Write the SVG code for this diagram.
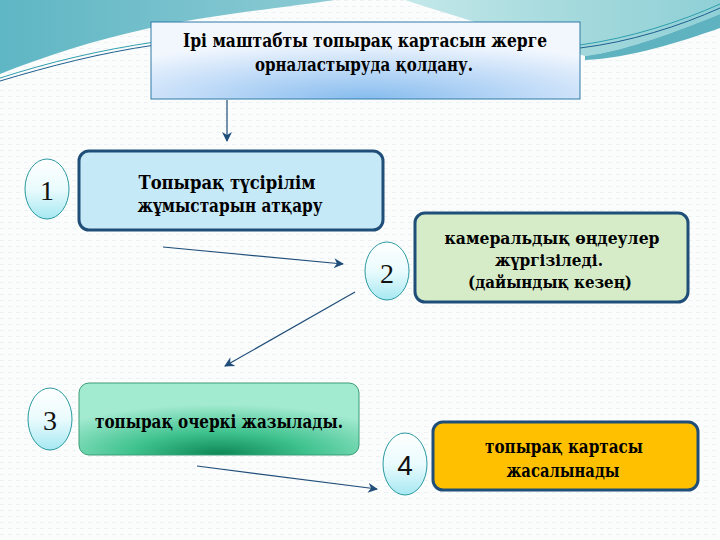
<svg xmlns="http://www.w3.org/2000/svg" width="720" height="540" viewBox="0 0 720 540">
<defs>
<linearGradient id="tealL" x1="0" y1="0" x2="1" y2="0">
<stop offset="0" stop-color="#5fb6c4"/><stop offset="1" stop-color="#8ccbd4"/>
</linearGradient>
<linearGradient id="tealR" x1="0" y1="0" x2="1" y2="0">
<stop offset="0" stop-color="#c4e8ea"/><stop offset="0.5" stop-color="#a6dadd"/><stop offset="1" stop-color="#8fd0d6"/>
</linearGradient>
<radialGradient id="titleFill" cx="0.5" cy="1" r="0.75" fx="0.5" fy="1">
<stop offset="0" stop-color="#86bcee"/><stop offset="0.55" stop-color="#c2dcf8"/><stop offset="1" stop-color="#f2f7fe"/>
</radialGradient>
<radialGradient id="greenFill" cx="0.5" cy="1" r="0.7" fx="0.5" fy="1">
<stop offset="0" stop-color="#0b8553"/><stop offset="0.45" stop-color="#3fc28e"/><stop offset="1" stop-color="#a2ead0"/>
</radialGradient>
<linearGradient id="ovalFill" x1="0" y1="0" x2="0" y2="1">
<stop offset="0" stop-color="#ffffff"/><stop offset="0.5" stop-color="#eafbfd"/><stop offset="1" stop-color="#a6e8f2"/>
</linearGradient>
<marker id="arr" viewBox="0 0 10 10" refX="9" refY="5" markerWidth="10" markerHeight="10" markerUnits="userSpaceOnUse" orient="auto">
<path d="M0,0 L10,5 L0,10 L3,5 Z" fill="#1f4e79"/>
</marker>
<pattern id="bgpat" width="8" height="6" patternUnits="userSpaceOnUse">
<rect width="8" height="6" fill="#fbfcfc"/>
<rect x="0" y="0" width="4" height="1" fill="#eef1f3"/>
</pattern>
</defs>
<style>
.t{font-family:"DejaVu Serif","Liberation Serif",serif;font-weight:bold;fill:#000;text-anchor:middle}
.n{font-family:"Liberation Serif","Times New Roman",serif;font-size:28px;fill:#111;text-anchor:middle}
.box{stroke:#1f4e79;stroke-width:3}
.oval{fill:url(#ovalFill);stroke:#2a9aa0;stroke-width:1}
.con{stroke:#1f4e79;stroke-width:1.2;fill:none;marker-end:url(#arr)}
</style>
<rect width="720" height="540" fill="url(#bgpat)"/>
<g id="background">
<path d="M0,0 H335 C 280,8 210,15 150,28 C 95,40 45,56 0,74 Z" fill="url(#tealL)"/>
<path d="M405,0 C 460,18 530,38 585,56 C 630,50 680,30 720,14 V0 Z" fill="url(#tealR)"/>
<path d="M585,56 C 630,50 680,30 720,14 V28 C 680,42 630,58 585,60 Z" fill="#5fb3c0"/>
<path d="M0,78 C 50,62 100,50 155,42" fill="none" stroke="#2f9fae" stroke-width="1"/>
<path d="M0,81 C 50,66 100,53 155,45" fill="none" stroke="#1f5f8f" stroke-width="1"/>
<path d="M580,45 C 630,38 680,22 720,4" fill="none" stroke="#2f9fae" stroke-width="1"/>
<path d="M580,48 C 630,42 680,26 720,8" fill="none" stroke="#1f5f8f" stroke-width="1"/>
</g>
<g id="title">
<rect x="151" y="22" width="429" height="77" fill="url(#titleFill)" stroke="#2f7aa6" stroke-width="1"/>
<text class="t" x="365" y="47" font-size="19" textLength="364" lengthAdjust="spacingAndGlyphs">Ірі маштабты топырақ картасын жерге</text>
<text class="t" x="364" y="71" font-size="19" textLength="218" lengthAdjust="spacingAndGlyphs">орналастыруда қолдану.</text>
</g>
<g id="node1">
<ellipse class="oval" cx="47" cy="189" rx="22" ry="30"/>
<text class="n" x="47" y="200">1</text>
<rect class="box" x="79" y="151" width="304" height="79" rx="10" fill="#c6e9f8"/>
<text class="t" x="227" y="189" font-size="19" textLength="177" lengthAdjust="spacingAndGlyphs">Топырақ түсірілім</text>
<text class="t" x="230" y="212" font-size="19" textLength="185" lengthAdjust="spacingAndGlyphs">жұмыстарын атқару</text>
</g>
<g id="node2">
<ellipse class="oval" cx="387" cy="271" rx="22" ry="29"/>
<text class="n" x="387" y="283">2</text>
<rect class="box" x="415" y="213" width="273" height="89" rx="10" fill="#d6ecc8"/>
<text class="t" x="552" y="244" font-size="17" textLength="215" lengthAdjust="spacingAndGlyphs">камеральдық өңдеулер</text>
<text class="t" x="549" y="266" font-size="17" textLength="108" lengthAdjust="spacingAndGlyphs">жүргізіледі.</text>
<text class="t" x="550" y="288" font-size="17" textLength="164" lengthAdjust="spacingAndGlyphs">(дайындық кезең)</text>
</g>
<g id="node3">
<ellipse class="oval" cx="50" cy="419" rx="22" ry="31"/>
<text class="n" x="50" y="430">3</text>
<rect x="79" y="383" width="280" height="72" rx="10" fill="url(#greenFill)" stroke="#3a9d78" stroke-width="1"/>
<text class="t" x="219" y="428" font-size="19" textLength="248" lengthAdjust="spacingAndGlyphs">топырақ очеркі жазылады.</text>
</g>
<g id="node4">
<ellipse class="oval" cx="405" cy="464" rx="22" ry="31"/>
<text x="405" y="475" font-family="Liberation Sans, Arial, sans-serif" font-size="28" fill="#111" text-anchor="middle">4</text>
<rect class="box" x="433" y="422" width="265" height="68" rx="10" fill="#ffc000"/>
<text class="t" x="564" y="453" font-size="19" textLength="158" lengthAdjust="spacingAndGlyphs">топырақ картасы</text>
<text class="t" x="563" y="477" font-size="19" textLength="113" lengthAdjust="spacingAndGlyphs">жасалынады</text>
</g>
<g id="connectors">
<line class="con" x1="227" y1="100" x2="227" y2="141"/>
<line class="con" x1="163" y1="247" x2="343" y2="264"/>
<line class="con" x1="355" y1="292" x2="225" y2="366"/>
<line class="con" x1="197" y1="466" x2="377" y2="489"/>
</g>
</svg>
